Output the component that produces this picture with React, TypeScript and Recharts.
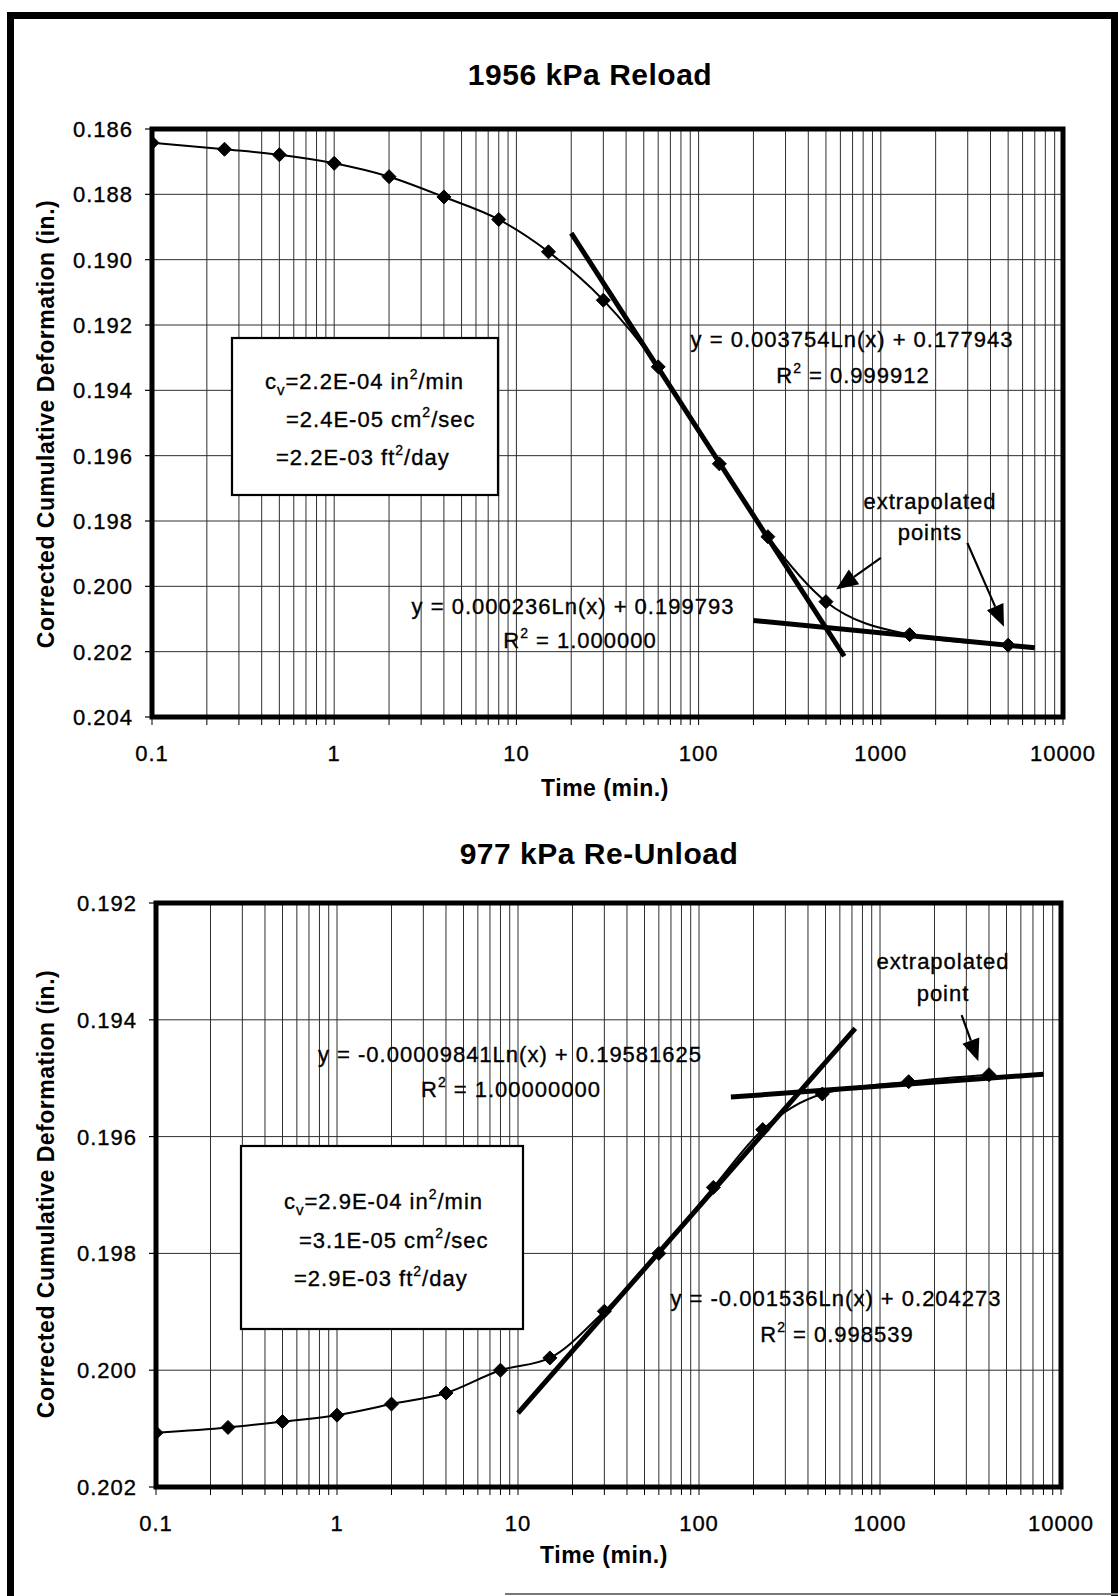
import React from "react";
import { ComposedChart, Line, XAxis, YAxis, CartesianGrid, ReferenceLine } from "recharts";

const FONT = "'Liberation Sans', Arial, Helvetica, sans-serif";

// ---- 1956 kPa reload: elapsed time (min.) vs corrected cumulative deformation (in.)
const reloadTime = [0.1, 0.25, 0.5, 1, 2, 4, 8, 15, 30, 60, 130, 240, 500, 1440, 5000];
const reloadDef = [
  0.18642, 0.18662, 0.18679, 0.18705, 0.18746, 0.18808, 0.18877, 0.18976, 0.19124, 0.19328,
  0.19625, 0.19848, 0.20047, 0.20148, 0.2018,
];

// ---- 977 kPa re-unload
const unloadTime = [0.1, 0.25, 0.5, 1, 2, 4, 8, 15, 30, 60, 120, 225, 480, 1440, 4000];
const unloadDef = [
  0.20107, 0.20098, 0.20088, 0.20077, 0.20058, 0.20039, 0.2, 0.19979, 0.19899, 0.198,
  0.19687, 0.19588, 0.19527, 0.19506, 0.19494,
];

// Logarithmic trend lines y = slope*Ln(x) + intercept, drawn over [from, to]
const reloadFits = [
  { slope: 0.003754, intercept: 0.177943, r2: 0.999912, digits: 6, from: 20, to: 630 },
  { slope: 0.000236, intercept: 0.199793, r2: 1.0, digits: 6, from: 200, to: 7000 },
];
const unloadFits = [
  { slope: -0.00009841, intercept: 0.19581625, r2: 1.0, digits: 8, from: 150, to: 8000 },
  { slope: -0.001536, intercept: 0.204273, r2: 0.998539, digits: 6, from: 10, to: 730 },
];

// Arrows marking the extrapolated points: [time, deformation] tail -> head
const reloadArrows = [
  { from: [1000, 0.19913], to: [568, 0.2001] },
  { from: [2985, 0.19867], to: [4742, 0.20124] },
];
const unloadArrows = [{ from: [2826, 0.19392], to: [3493, 0.19471] }];

// Axis ticks
const decades = [0.1, 1, 10, 100, 1000, 10000];
const decadeLabels = ["0.1", "1", "10", "100", "1000", "10000"];
const minorSteps = [1, 2, 3, 4, 5, 6, 7, 8, 9];
const reloadYTicks = [0.186, 0.188, 0.19, 0.192, 0.194, 0.196, 0.198, 0.2, 0.202, 0.204];
const unloadYTicks = [0.192, 0.194, 0.196, 0.198, 0.2, 0.202];

const logTicks = decades
  .slice(0, -1)
  .flatMap((d) => minorSteps.map((m) => Number((d * m).toPrecision(6))))
  .concat([decades[decades.length - 1]]);

const toPoints = (t: number[], d: number[]) => t.map((x, i) => ({ t: x, d: d[i] }));

type Fit = { slope: number; intercept: number; r2: number; digits: number; from: number; to: number };
const fitPoints = (f: Fit) =>
  [f.from, f.to].map((x) => ({ t: x, d: f.slope * Math.log(x) + f.intercept }));
const fitEquation = (f: Fit) =>
  `y = ${f.slope.toFixed(f.digits)}Ln(x) + ${f.intercept.toFixed(f.digits)}`;
const fitR2 = (f: Fit) => f.r2.toFixed(f.digits);

const Diamond = (p: any) => {
  const { cx, cy, index } = p;
  if (cx == null || cy == null) return <g key={`n-${index}`} />;
  const r = 7;
  return (
    <path
      key={`dm-${index}`}
      d={`M${cx},${cy - r}L${cx + r},${cy}L${cx},${cy + r}L${cx - r},${cy}Z`}
      fill="#000"
      stroke="#000"
    />
  );
};

const ArrowShape = (p: any) => {
  const { x1, y1, x2, y2 } = p;
  if ([x1, y1, x2, y2].some((v) => v == null || Number.isNaN(v))) return <g />;
  const dx = x2 - x1;
  const dy = y2 - y1;
  const len = Math.hypot(dx, dy) || 1;
  const ux = dx / len;
  const uy = dy / len;
  const hl = 22;
  const hw = 9;
  const bx = x2 - ux * hl;
  const by = y2 - uy * hl;
  return (
    <g>
      <line x1={x1} y1={y1} x2={bx} y2={by} stroke="#000" strokeWidth={2.2} />
      <polygon
        points={`${x2},${y2} ${bx - uy * hw},${by + ux * hw} ${bx + uy * hw},${by - ux * hw}`}
        fill="#000"
      />
    </g>
  );
};

const XTick = (p: any) => {
  const { x, y, payload } = p;
  const i = decades.indexOf(payload.value);
  if (i < 0) return <g />;
  return (
    <text x={x} y={y} dy="0.71em" textAnchor="middle" fontFamily={FONT} fontSize={22}
      letterSpacing={1} fill="#000" stroke="#000" strokeWidth={0.35}>
      {decadeLabels[i]}
    </text>
  );
};

const YTick = (p: any) => {
  const { x, y, payload } = p;
  return (
    <text x={x} y={y} dy="0.36em" textAnchor="end" fontFamily={FONT} fontSize={22}
      letterSpacing={1} fill="#000" stroke="#000" strokeWidth={0.35}>
      {Number(payload.value).toFixed(3)}
    </text>
  );
};

type PanelProps = {
  top: number;
  height: number;
  margin: { top: number; right: number; bottom: number; left: number };
  yWidth: number;
  yTicks: number[];
  points: { t: number; d: number }[];
  fits: Fit[];
  arrows: { from: number[]; to: number[] }[];
};

const Panel = ({ top, height, margin, yWidth, yTicks, points, fits, arrows }: PanelProps) => (
  <div style={{ position: "absolute", left: 0, top, width: 1118, height }}>
    <ComposedChart width={1118} height={height} margin={margin}>
      <CartesianGrid stroke="#2e2e2e" strokeWidth={1} />
      <XAxis
        dataKey="t"
        type="number"
        scale="log"
        domain={[decades[0], decades[decades.length - 1]]}
        ticks={logTicks}
        interval={0}
        allowDataOverflow
        axisLine={false}
        tickLine={{ stroke: "#000", strokeWidth: 1 }}
        tickSize={8}
        tickMargin={20}
        height={60}
        tick={<XTick />}
      />
      <YAxis
        type="number"
        reversed
        domain={[yTicks[0], yTicks[yTicks.length - 1]]}
        ticks={yTicks}
        interval={0}
        allowDataOverflow
        axisLine={false}
        tickLine={{ stroke: "#000", strokeWidth: 1.2 }}
        tickSize={7}
        tickMargin={12}
        width={yWidth}
        tick={<YTick />}
      />
      <Line
        data={points}
        dataKey="d"
        type="monotone"
        stroke="#000"
        strokeWidth={2}
        dot={(p: any) => <Diamond {...p} key={`dot-${p.index}`} />}
        isAnimationActive={false}
      />
      {fits.map((f, i) => (
        <Line
          key={`fit-${i}`}
          data={fitPoints(f)}
          dataKey="d"
          type="linear"
          stroke="#000"
          strokeWidth={5}
          dot={false}
          isAnimationActive={false}
        />
      ))}
      {arrows.map((a, i) => (
        <ReferenceLine
          key={`arr-${i}`}
          segment={[
            { x: a.from[0], y: a.from[1] },
            { x: a.to[0], y: a.to[1] },
          ]}
          ifOverflow="visible"
          shape={ArrowShape}
        />
      ))}
    </ComposedChart>
  </div>
);

const txt = { fontFamily: FONT, fontSize: 22, fill: "#000", letterSpacing: 1, stroke: "#000", strokeWidth: 0.35 } as const;
const bold = { fontFamily: FONT, fontWeight: 700, fill: "#000" } as const;

const R2 = ({ x, y, value }: { x: number; y: number; value: string }) => (
  <text x={x} y={y} textAnchor="middle" {...txt}>
    R<tspan fontSize={14} dy={-10}>2</tspan>
    <tspan dy={10}> = {value}</tspan>
  </text>
);

const CvBox = ({ x, y, w, h, lines }: { x: number; y: number; w: number; h: number;
  lines: { x: number; y: number; a: string; b: string; tail: string; sub?: boolean }[] }) => (
  <g>
    <rect x={x} y={y} width={w} height={h} fill="#fff" stroke="#000" strokeWidth={2.2} />
    {lines.map((l, i) => (
      <text key={i} x={l.x} y={l.y} {...txt}>
        {l.sub ? (
          <>
            c<tspan fontSize={15} dy={6}>v</tspan>
            <tspan dy={-6}>{l.a}</tspan>
          </>
        ) : (
          l.a
        )}
        <tspan>{l.b}</tspan>
        <tspan fontSize={14} dy={-10}>2</tspan>
        <tspan dy={10}>{l.tail}</tspan>
      </text>
    ))}
  </g>
);

const Overlay = () => (
  <svg width={1118} height={1596} style={{ position: "absolute", left: 0, top: 0, pointerEvents: "none" }}>
    {/* page frame */}
    <path d="M10.5,1600 L10.5,15.5 L1114.5,15.5 L1114.5,1600" fill="none" stroke="#000" strokeWidth={7} />
    <line x1={505} y1={1594} x2={1118} y2={1594} stroke="#777" strokeWidth={2} />

    {/* plot borders */}
    <rect x={152} y={129} width={911} height={588} fill="none" stroke="#000" strokeWidth={5} />
    <rect x={156} y={903} width={905} height={584} fill="none" stroke="#000" strokeWidth={5} />

    {/* titles */}
    <text x={590} y={85} textAnchor="middle" fontSize={30} letterSpacing={0.5} {...bold}>1956 kPa Reload</text>
    <text x={599} y={864} textAnchor="middle" fontSize={30} letterSpacing={0.5} {...bold}>977 kPa Re-Unload</text>

    {/* axis titles */}
    <text x={605} y={796} textAnchor="middle" fontSize={23} letterSpacing={0.5} {...bold}>Time (min.)</text>
    <text x={604} y={1563} textAnchor="middle" fontSize={23} letterSpacing={0.5} {...bold}>Time (min.)</text>
    <text transform="translate(54,424) rotate(-90)" textAnchor="middle" fontSize={23} letterSpacing={0.5} {...bold}>
      Corrected Cumulative Deformation (in.)
    </text>
    <text transform="translate(54,1194) rotate(-90)" textAnchor="middle" fontSize={23} letterSpacing={0.5} {...bold}>
      Corrected Cumulative Deformation (in.)
    </text>

    {/* coefficient of consolidation boxes */}
    <CvBox
      x={232} y={338} w={266} h={157}
      lines={[
        { x: 265, y: 389, a: "=2.2E-04 ", b: "in", tail: "/min", sub: true },
        { x: 286, y: 427, a: "=2.4E-05 ", b: "cm", tail: "/sec" },
        { x: 276, y: 465, a: "=2.2E-03 ", b: "ft", tail: "/day" },
      ]}
    />
    <CvBox
      x={241} y={1146} w={282} h={183}
      lines={[
        { x: 284, y: 1209, a: "=2.9E-04 ", b: "in", tail: "/min", sub: true },
        { x: 299, y: 1248, a: "=3.1E-05 ", b: "cm", tail: "/sec" },
        { x: 294, y: 1286, a: "=2.9E-03 ", b: "ft", tail: "/day" },
      ]}
    />

    {/* trend line equations */}
    <text x={852} y={347} textAnchor="middle" {...txt}>{fitEquation(reloadFits[0])}</text>
    <R2 x={853} y={383} value={fitR2(reloadFits[0])} />
    <text x={573} y={614} textAnchor="middle" {...txt}>{fitEquation(reloadFits[1])}</text>
    <R2 x={580} y={648} value={fitR2(reloadFits[1])} />

    <text x={510} y={1062} textAnchor="middle" {...txt}>{fitEquation(unloadFits[0])}</text>
    <R2 x={511} y={1097} value={fitR2(unloadFits[0])} />
    <text x={836} y={1306} textAnchor="middle" {...txt}>{fitEquation(unloadFits[1])}</text>
    <R2 x={837} y={1342} value={fitR2(unloadFits[1])} />

    {/* extrapolation notes */}
    <text x={930} y={509} textAnchor="middle" {...txt}>extrapolated</text>
    <text x={930} y={540} textAnchor="middle" {...txt}>points</text>
    <text x={943} y={969} textAnchor="middle" {...txt}>extrapolated</text>
    <text x={943} y={1001} textAnchor="middle" {...txt}>point</text>
  </svg>
);

export default function App() {
  return (
    <div style={{ position: "absolute", left: 0, top: 0, width: 1118, height: 1596, background: "#fff", overflow: "hidden" }}>
      <Panel
        top={0}
        height={800}
        margin={{ top: 129, right: 55, bottom: 23, left: 0 }}
        yWidth={152}
        yTicks={reloadYTicks}
        points={toPoints(reloadTime, reloadDef)}
        fits={reloadFits}
        arrows={reloadArrows}
      />
      <Panel
        top={780}
        height={800}
        margin={{ top: 123, right: 57, bottom: 33, left: 0 }}
        yWidth={156}
        yTicks={unloadYTicks}
        points={toPoints(unloadTime, unloadDef)}
        fits={unloadFits}
        arrows={unloadArrows}
      />
      <Overlay />
    </div>
  );
}
